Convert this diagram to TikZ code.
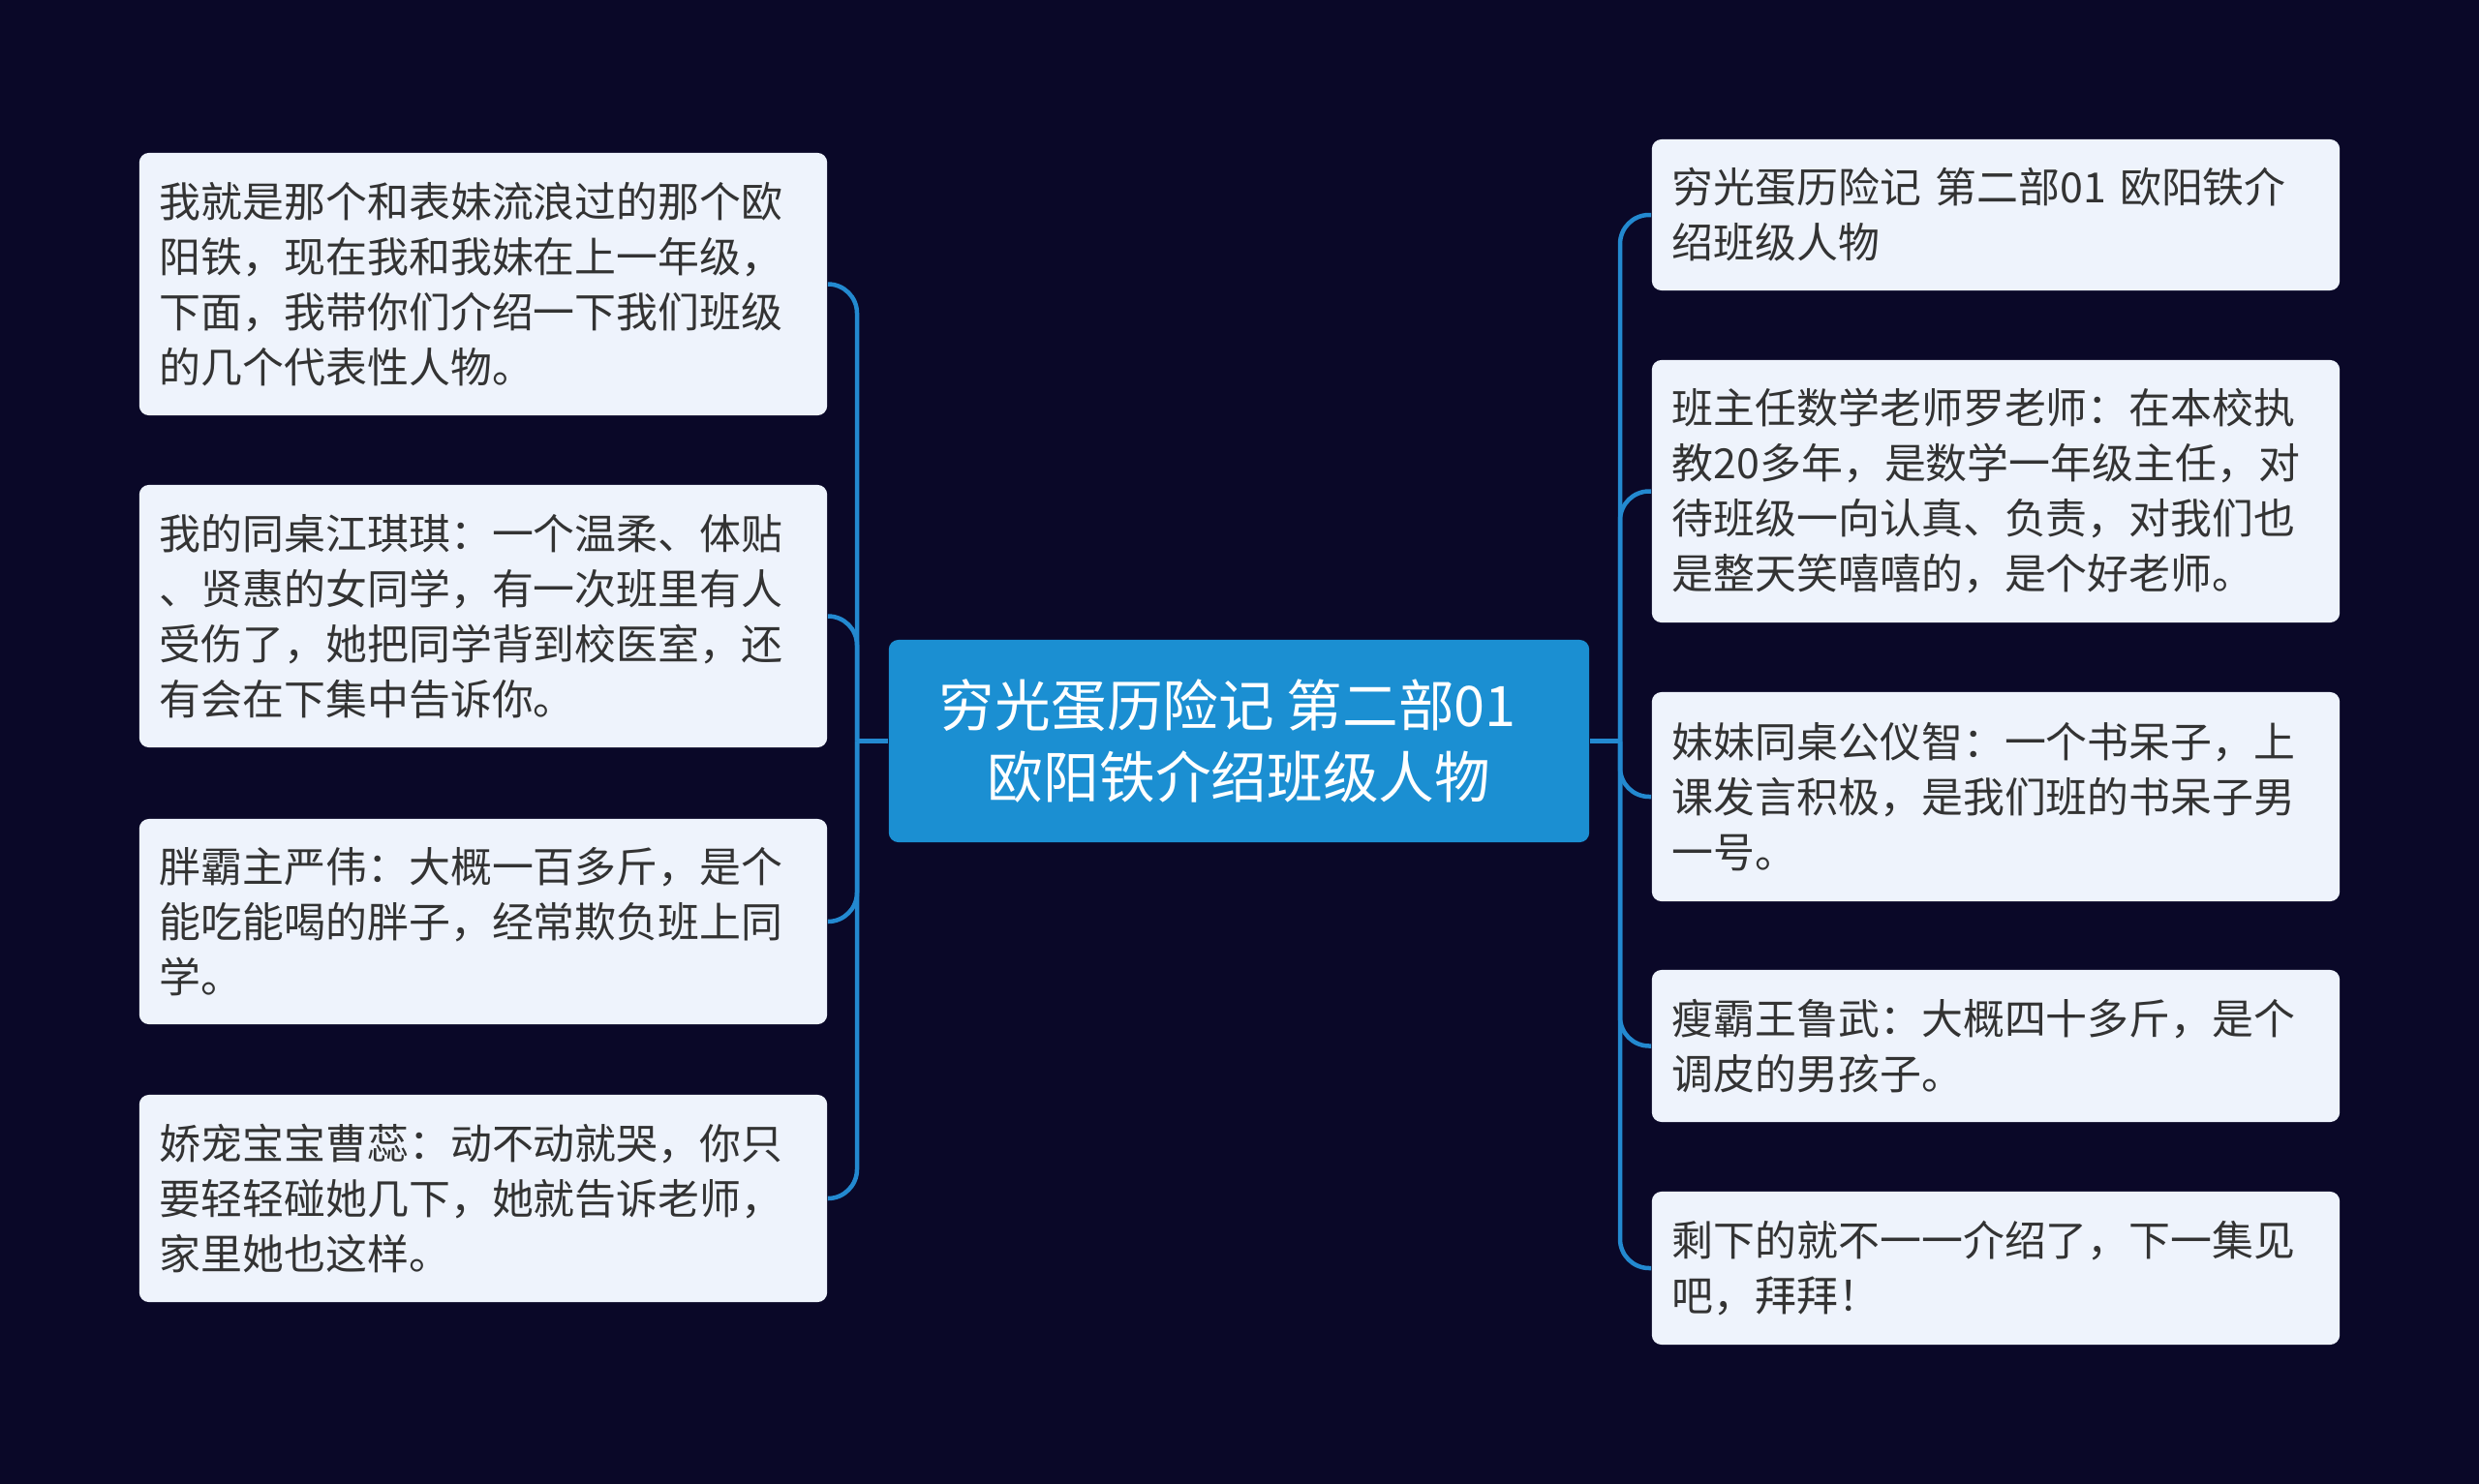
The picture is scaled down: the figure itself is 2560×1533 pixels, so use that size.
\documentclass[tikz,border=0pt]{standalone}
\usepackage{fontspec}
\setmainfont{Noto Sans CJK SC}
\usetikzlibrary{positioning,calc}
\definecolor{mapnight}{HTML}{0A0828}
\definecolor{mapblue}{HTML}{1B8FD2}
\definecolor{maplink}{HTML}{2389D0}
\definecolor{mapcard}{HTML}{EEF3FC}
\definecolor{mapink}{HTML}{333333}

\begin{document}
\begin{tikzpicture}[x=0.01cm, y=-0.01cm,
  hub/.style={fill=mapblue, rounded corners=0.1cm, text=white, font=\fontsize{16.4pt}{21.3pt}\selectfont, align=center, minimum width=7.23cm, minimum height=2.09cm},
  card/.style={fill=mapcard, rounded corners=0.1cm, text=mapink, font=\fontsize{12.2pt}{16.2pt}\selectfont, align=left, text width=6.68cm, inner xsep=0.21cm, inner ysep=0pt},
  link/.style={draw=maplink, line width=0.045cm, rounded corners=0.3cm}]
\fill[mapnight] (0,0) rectangle (2560,1533);
\useasboundingbox (0,0) rectangle (2560,1533);
\node[hub] (hub) at (1279.5,765.5) {穷光蛋历险记 第二部01\hspace*{0.4em}\\欧阳铁介绍班级人物};
\node[card, minimum height=2.71cm] (l1) at (499,293.5) {我就是那个和表妹流浪过的那个欧\\阳铁，现在我和我妹在上一年级，\\下面，我带你们介绍一下我们班级\\的几个代表性人物。};
\node[card, minimum height=2.71cm] (l2) at (499,636.5) {我的同桌江琪琪：一个温柔、体贴\\、贤惠的女同学，有一次班里有人\\受伤了，她把同学背到校医室，还\\有会在下集中告诉你。};
\node[card, minimum height=2.12cm] (l3) at (499,952) {胖霸主严伟：大概一百多斤，是个\\能吃能喝的胖子，经常欺负班上同\\学。};
\node[card, minimum height=2.14cm] (l4) at (499,1238) {娇宠宝宝曹蕊：动不动就哭，你只\\要轻轻碰她几下，她就告诉老师，\\家里她也这样。};
\node[card, minimum height=1.56cm] (r1) at (2061,222) {穷光蛋历险记 第二部01 欧阳铁介\\绍班级人物};
\node[card, minimum height=2.71cm] (r2) at (2061,507.5) {班主任数学老师罗老师：在本校执\\教20多年，是数学一年级主任，对\\待班级一向认真、负责，对我们也\\是整天笑嘻嘻的，是个好老师。};
\node[card, minimum height=2.16cm] (r3) at (2061,823) {妹妹同桌公仪智：一个书呆子，上\\课发言积极，是我们班的书呆子男\\一号。};
\node[card, minimum height=1.57cm] (r4) at (2061,1080.5) {瘦霸王鲁武：大概四十多斤，是个\\调皮的男孩子。};
\node[card, minimum height=1.58cm] (r5) at (2061,1310) {剩下的就不一一介绍了，下一集见\\吧，拜拜！};
\coordinate (ltrunk) at (885,765.5);
\coordinate (rtrunk) at (1673,765.5);
\draw[link] (hub.west) -- (ltrunk);
\draw[link] (hub.east) -- (rtrunk);
\foreach \n in {l1,l2,l3,l4}{
  \draw[link] (ltrunk) |- (\n.east);
}
\foreach \n in {r1,r2,r3,r4,r5}{
  \draw[link] (rtrunk) |- (\n.west);
}
\end{tikzpicture}
\end{document}
